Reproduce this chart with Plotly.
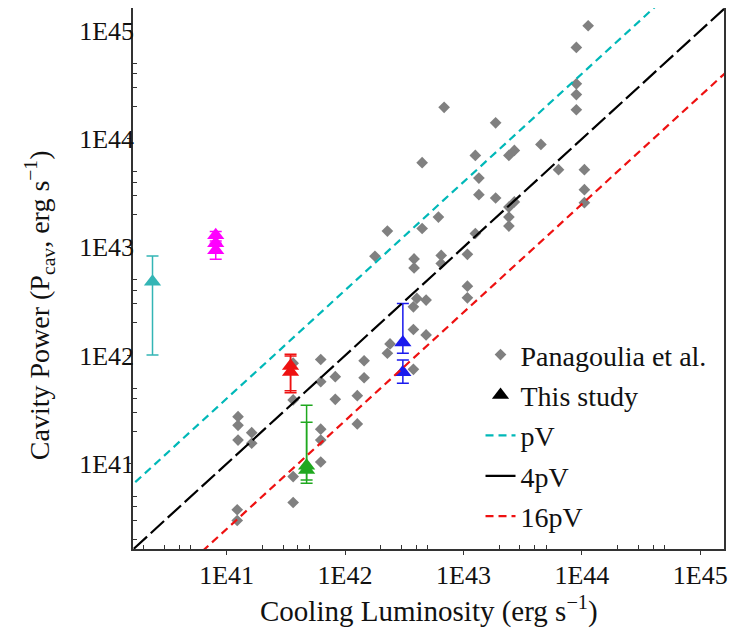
import numpy as np
import plotly.graph_objects as go

# ---------------- data ----------------
# Panagoulia et al. sample (cooling luminosity, cavity power) in erg/s
panag_lcool = [4.48e42, 2.28e42, 4.48e42, 1.79e42, 3.83e42, 3.83e42, 1.13e44, 8.98e43,
               8.98e43, 8.98e43, 8.98e43, 6.87e42, 1.87e43, 1.26e43, 4.51e43, 2.42e43,
               2.69e43, 1.35e43, 6.35e43, 1.05e44, 1.35e43, 1.87e43, 2.69e43, 2.42e43,
               1.05e44, 1.05e44, 6.15e42, 2.42e43, 2.42e43, 1.26e43, 6.49e42, 6.49e42,
               1.08e43, 1.08e43, 1.08e43, 4.04e42, 4.84e42, 3.78e42, 3.78e42, 4.84e42,
               2.40e42, 2.28e42, 3.78e42, 6.24e41, 1.45e42, 3.65e41, 8.28e41, 1.45e42,
               6.24e41, 3.65e41, 8.28e41, 1.27e42, 1.25e41, 1.25e41, 1.25e41, 1.63e41,
               1.63e41, 6.24e41, 6.24e41, 1.27e42, 6.24e41, 3.65e41, 3.65e41, 1.23e41,
               1.23e41]
panag_pcav = [6.04e43, 1.41e43, 1.49e43, 8.26e42, 7.80e42, 6.44e42, 1.11e45, 7.00e44,
              3.23e44, 2.57e44, 1.86e44, 1.96e44, 1.41e44, 7.05e43, 8.90e43, 7.05e43,
              7.83e43, 4.35e43, 5.20e43, 5.20e43, 3.06e43, 2.85e43, 2.62e43, 2.35e43,
              3.40e43, 2.58e43, 1.90e43, 1.90e43, 1.57e43, 1.34e43, 8.40e42, 7.08e42,
              8.60e42, 4.37e42, 3.41e42, 3.37e42, 3.25e42, 2.82e42, 1.74e42, 1.55e42,
              1.28e42, 1.05e42, 7.47e41, 9.20e41, 8.96e41, 8.50e41, 6.38e41, 6.24e41,
              5.74e41, 3.89e41, 3.94e41, 4.26e41, 2.73e41, 2.27e41, 1.66e41, 1.94e41,
              1.55e41, 2.09e41, 1.66e41, 2.34e41, 1.04e41, 7.64e40, 4.40e40, 3.77e40,
              3.00e40]

# This study: groups of (Lcool, Pcav, +err, -err)
study_colors = ["#33b5b5", "#ff00ff", "#ee1111", "#1fa81f", "#1a1aee"]
study_lcool = [[2.37e40], [8.1e40, 8.1e40, 8.1e40], [3.47e41, 3.47e41],
               [4.74e41, 4.74e41], [3.08e42, 3.08e42]]
study_pcav = [[4.8e42], [1.29e43, 1.09e43, 9.4e42], [8.0e41, 7.05e41],
              [8.8e40, 9.6e40], [1.32e42, 7.0e41]]
study_err_plus = [[3.5e42], [1.1e42, 1.5e42, 1.5e42], [2.3e41, 2.85e41],
                  [2.6e41, 1.46e41], [1.71e42, 2.1e41]]
study_err_minus = [[3.79e42], [1.5e42, 2.0e42, 1.65e42], [3.26e41, 2.51e41],
                   [2.16e40, 2.5e40], [2.7e41, 1.45e41]]

# model lines: P = factor * L
line_names = ["pV", "4pV", "16pV"]
line_factors = [4.0, 1.0, 0.25]
line_colors = ["#00b8b8", "#000000", "#ee1111"]
line_dashes = ["8px,5px", "18px,5px", "8px,5px"]
legend_dashes = ["8px,5px", "solid", "8px,5px"]

tick_vals = [1e41, 1e42, 1e43, 1e44, 1e45]
tick_text = ["1E41", "1E42", "1E43", "1E44", "1E45"]
minor_vals = [m * 10.0 ** e for e in range(40, 46) for m in (2, 3, 4, 5)]

x_title = "Cooling Luminosity (erg s<sup>−1</sup>)"
y_title = "Cavity Power (P<sub>cav</sub>, erg s<sup>−1</sup>)"

FONT = "Liberation Serif"

fig = go.Figure()

# gray diamonds
fig.add_trace(go.Scatter(
    x=panag_lcool, y=panag_pcav, mode="markers", name="Panagoulia et al.",
    marker=dict(symbol="diamond", size=9, color="#808080"),
    legendgroup="a", legendrank=1))

# study points
for c, xs, ys, ep, em in zip(study_colors, study_lcool, study_pcav,
                             study_err_plus, study_err_minus):
    fig.add_trace(go.Scatter(
        x=xs, y=ys, mode="markers", showlegend=False,
        marker=dict(symbol="triangle-up", size=15, color=c),
        error_y=dict(type="data", symmetric=False, array=ep, arrayminus=em,
                     color=c, thickness=1.5, width=6)))

# legend entry for the study
fig.add_trace(go.Scatter(
    x=[None], y=[None], mode="markers", name="This study",
    marker=dict(symbol="triangle-up", size=15, color="black"),
    legendgroup="b", legendrank=2))

lx = np.logspace(39.5, 46, 60)
for i, (n, f, c, d, ld) in enumerate(zip(line_names, line_factors, line_colors,
                                         line_dashes, legend_dashes)):
    fig.add_trace(go.Scatter(
        x=lx, y=lx * f, mode="lines", name=n, showlegend=False,
        line=dict(color=c, width=2.2, dash=d)))
    fig.add_trace(go.Scatter(
        x=[None], y=[None], mode="lines", name=n,
        line=dict(color=c, width=2.2, dash=ld),
        legendgroup="l%d" % i, legendrank=3 + i))

axis_common = dict(
    type="log", tickmode="array", tickvals=tick_vals, ticktext=tick_text,
    ticks="outside", ticklen=4, tickwidth=1.2, tickcolor="#333",
    showline=True, linecolor="#333", linewidth=1.5, mirror=True,
    showgrid=False, zeroline=False, automargin=False,
    tickfont=dict(family=FONT, size=26, color="#111"),
    minor=dict(tickmode="array", tickvals=minor_vals, ticks="inside",
               ticklen=4, tickcolor="#333", showgrid=False),
)

fig.update_xaxes(range=[40.21, 45.20], ticklabelstandoff=-2, **axis_common)
fig.update_yaxes(range=[40.214, 45.209], ticklabelstandoff=-12, **axis_common)

# the page body adds an 8px margin, so the figure is made 8px smaller
fig.update_layout(
    width=732, height=622,
    margin=dict(l=125, r=16, t=0, b=81),
    paper_bgcolor="white", plot_bgcolor="white",
    legend=dict(x=0.588, y=0.405, xanchor="left", yanchor="top",
                traceorder="grouped", tracegroupgap=1,
                bgcolor="rgba(255,255,255,0)",
                font=dict(family=FONT, size=28, color="#111")),
    annotations=[
        dict(text=x_title, xref="paper", yref="paper", x=0.5, y=-0.111,
             xanchor="center", yanchor="middle", showarrow=False,
             font=dict(family=FONT, size=29, color="#111")),
        dict(text=y_title, xref="paper", yref="paper", x=-0.158, y=0.45,
             xanchor="center", yanchor="middle", showarrow=False, textangle=-90,
             font=dict(family=FONT, size=28, color="#111")),
    ],
)

fig.write_html("out.html")
